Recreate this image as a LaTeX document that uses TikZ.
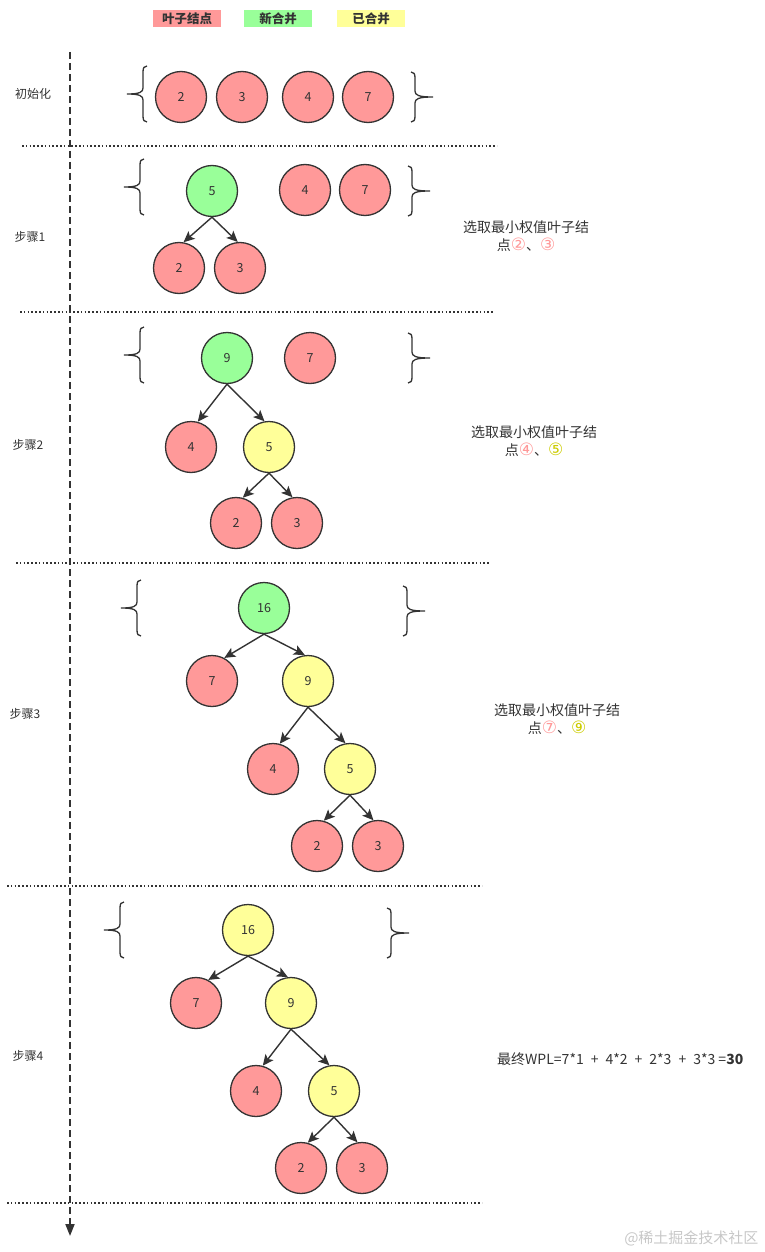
\documentclass[tikz,border=0pt]{standalone}
\usepackage{fontspec}
\setmainfont{Noto Sans CJK SC}
\newfontfamily\dvs{DejaVu Sans}
\usetikzlibrary{arrows.meta}
\definecolor{leaf}{HTML}{FF9999}
\definecolor{newm}{HTML}{99FF99}
\definecolor{oldm}{HTML}{FFFF99}
\definecolor{ink}{HTML}{333333}
\definecolor{darky}{HTML}{CCCC00}
\newcommand{\cn}[2]{{\fontsize{17pt}{18pt}\dvs\color{#1}#2}}
\newcommand{\pl}{\hspace{7pt}+\hspace{7pt}}
\tikzset{
  circ/.style={circle,minimum size=51pt,inner sep=0pt,draw=ink,line width=1.3pt,font=\fontsize{12.5pt}{14pt}\selectfont,text=ink},
  lf/.style={circ,fill=leaf},
  nw/.style={circ,fill=newm},
  od/.style={circ,fill=oldm},
  edge/.style={draw=ink,line width=1.4pt,-{Stealth[length=11pt,width=10pt,inset=2.5pt]}},
  sep/.style={draw=ink,line width=1.6pt,dash pattern=on 1.6pt off 2.2pt},
  steplabel/.style={text=ink,font=\fontsize{12pt}{14pt}\selectfont},
  note/.style={text=ink,font=\fontsize{14pt}{18pt}\selectfont,align=center},
  legendbox/.style={minimum width=68pt,minimum height=17pt,inner sep=0pt,text=ink,font=\fontsize{12.5pt}{14pt}\selectfont\bfseries},
  brace/.style={draw=ink,line width=1.3pt},
  lbrace/.pic={\draw[brace] (4,-28) .. controls (1,-28) and (0,-26) .. (0,-22) -- (0,-6) .. controls (0,-2) and (-3,0) .. (-16,0) .. controls (-3,0) and (0,2) .. (0,6) -- (0,22) .. controls (0,26) and (1,28) .. (4,28);},
  rbrace/.pic={\draw[brace] (-4,-25) .. controls (-1,-25) and (0,-23) .. (0,-19) -- (0,-6) .. controls (0,-2) and (3,0) .. (18,0) .. controls (3,0) and (0,2) .. (0,6) -- (0,19) .. controls (0,23) and (-1,25) .. (-4,25);}
}
\begin{document}
\begin{tikzpicture}[x=1pt,y=-1pt]
\useasboundingbox (0,0) rectangle (765,1252);
% legend
\node[legendbox,fill=leaf] (lg1) at (187,18.5) {叶子结点};
\node[legendbox,fill=newm] (lg2) at (278,18.5) {新合并};
\node[legendbox,fill=oldm] (lg3) at (371,18.5) {已合并};
% timeline
\coordinate (tl0) at (70,52);
\coordinate (tl1) at (70,1236);
\draw[draw=ink,line width=1.8pt,dash pattern=on 7pt off 4pt,-{Triangle[length=12pt,width=9pt]}] (tl0) -- (tl1);
% separators
\coordinate (s1a) at (22,146); \coordinate (s1b) at (497,146);
\coordinate (s2a) at (20,312); \coordinate (s2b) at (494,312);
\coordinate (s3a) at (16,563); \coordinate (s3b) at (490,563);
\coordinate (s4a) at (7,886);  \coordinate (s4b) at (482,886);
\coordinate (s5a) at (7,1203); \coordinate (s5b) at (482,1203);
\draw[sep] (s1a) -- (s1b);
\draw[sep] (s2a) -- (s2b);
\draw[sep] (s3a) -- (s3b);
\draw[sep] (s4a) -- (s4b);
\draw[sep] (s5a) -- (s5b);
% step labels
\node[steplabel] (l0) at (33,94) {初始化};
\node[steplabel] (l1) at (30,237) {步骤1};
\node[steplabel] (l2) at (28,445) {步骤2};
\node[steplabel] (l3) at (25,714) {步骤3};
\node[steplabel] (l4) at (28,1056) {步骤4};
% init
\pic at (143,94) {lbrace};
\pic at (415,97) {rbrace};
\node[lf] (i2) at (181,97) {2};
\node[lf] (i3) at (242,97) {3};
\node[lf] (i4) at (308,97) {4};
\node[lf] (i7) at (368,97) {7};
% step 1
\pic at (140,187) {lbrace};
\pic at (412,191) {rbrace};
\node[nw] (a5) at (212,191) {5};
\node[lf] (a4) at (305,190) {4};
\node[lf] (a7) at (365,190) {7};
\node[lf] (a2) at (179,268) {2};
\node[lf] (a3) at (240,268) {3};
\draw[edge] (a5.south) -- (a2.80);
\draw[edge] (a5.south) -- (a3.95);
\node[note] (n1) at (526,236) {选取最小权值叶子结\\点\cn{leaf}{②}、\cn{leaf}{③}};
% step 2
\pic at (140,355) {lbrace};
\pic at (412,358) {rbrace};
\node[nw] (b9) at (227,358) {9};
\node[lf] (b7) at (310,358) {7};
\node[lf] (b4) at (191,447) {4};
\node[od] (b5) at (269,447) {5};
\node[lf] (b2) at (236,523) {2};
\node[lf] (b3) at (297,523) {3};
\draw[edge] (b9.south) -- (b4.75);
\draw[edge] (b9.south) -- (b5.100);
\draw[edge] (b5.south) -- (b2.75);
\draw[edge] (b5.south) -- (b3.100);
\node[note] (n2) at (534,441) {选取最小权值叶子结\\点\cn{leaf}{④}、\cn{darky}{⑤}};
% step 3
\pic at (137,608) {lbrace};
\pic at (407,611) {rbrace};
\node[nw] (c16) at (264,608) {16};
\node[lf] (c7) at (212,681) {7};
\node[od] (c9) at (308,681) {9};
\node[lf] (c4) at (273,769) {4};
\node[od] (c5) at (350,769) {5};
\node[lf] (c2) at (317,846) {2};
\node[lf] (c3) at (378,846) {3};
\draw[edge] (c16.south) -- (c7.62);
\draw[edge] (c16.south) -- (c9.97);
\draw[edge] (c9.south) -- (c4.75);
\draw[edge] (c9.south) -- (c5.100);
\draw[edge] (c5.south) -- (c2.75);
\draw[edge] (c5.south) -- (c3.100);
\node[note] (n3) at (557,719) {选取最小权值叶子结\\点\cn{leaf}{⑦}、\cn{darky}{⑨}};
% step 4
\pic at (120,930) {lbrace};
\pic at (391,933) {rbrace};
\node[od] (d16) at (248,930) {16};
\node[lf] (d7) at (196,1003) {7};
\node[od] (d9) at (291,1003) {9};
\node[lf] (d4) at (256,1091) {4};
\node[od] (d5) at (334,1091) {5};
\node[lf] (d2) at (301,1168) {2};
\node[lf] (d3) at (362,1168) {3};
\draw[edge] (d16.south) -- (d7.62);
\draw[edge] (d16.south) -- (d9.97);
\draw[edge] (d9.south) -- (d4.75);
\draw[edge] (d9.south) -- (d5.100);
\draw[edge] (d5.south) -- (d2.75);
\draw[edge] (d5.south) -- (d3.100);
\node[note,anchor=west,inner sep=0pt] (n4) at (497,1059) {最终WPL=7*1\pl 4*2\pl 2*3\pl 3*3 =\textbf{30}};
% watermark
\node[text=black!22,font=\fontsize{15pt}{17pt}\selectfont,anchor=east] (wm) at (762,1238) {@稀土掘金技术社区};
\end{tikzpicture}
\end{document}
